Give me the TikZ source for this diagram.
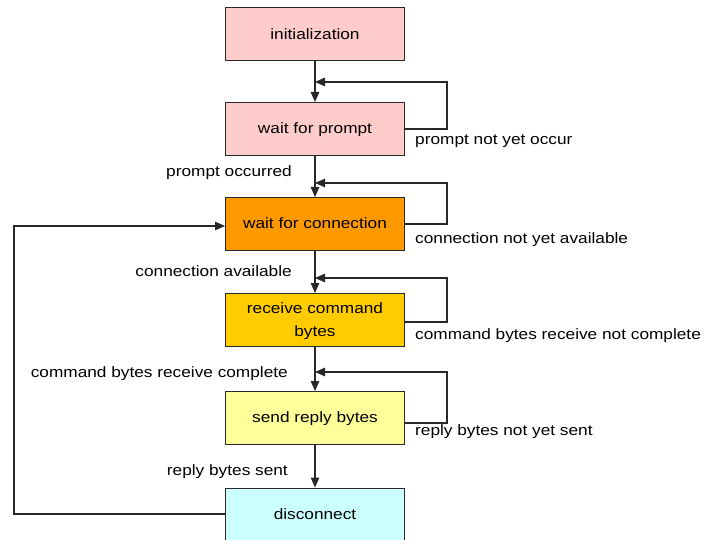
\documentclass[tikz,border=0pt]{standalone}
\usepackage{fontspec}
\setmainfont{Liberation Sans}[FakeStretch=1.15]
\usetikzlibrary{arrows.meta}
\definecolor{pinkbox}{RGB}{255,204,204}
\definecolor{orangebox}{RGB}{255,153,0}
\definecolor{goldbox}{RGB}{255,204,0}
\definecolor{yellowbox}{RGB}{255,255,153}
\definecolor{cyanbox}{RGB}{204,255,255}
\definecolor{edge}{RGB}{40,40,40}
\tikzset{
  state/.style={draw=edge, line width=1pt, minimum width=179pt, minimum height=53pt,
    align=center, font=\fontsize{15}{17}\selectfont, inner sep=2pt, text depth=1pt},
  flow/.style={draw=edge, line width=1.2pt, -{Triangle[length=10pt,width=8.5pt]}},
  loopline/.style={draw=edge, line width=1.2pt, -{Triangle[length=10pt,width=8.5pt]}},
  lbl/.style={font=\fontsize{15}{17}\selectfont, inner sep=0pt, text=black}
}
\begin{document}
\begin{tikzpicture}[x=1pt,y=-1pt]
\useasboundingbox (0,0) rectangle (704,540);
\fill[white] (0,0) rectangle (704,540);

% states
\node[state, fill=pinkbox]   (init) at (315,34.5) {initialization};
\node[state, fill=pinkbox]   (wp)   at (315,129)  {wait for prompt};
\node[state, fill=orangebox] (wc)   at (315,224)  {wait for connection};
\node[state, fill=goldbox]   (rc)   at (315,320)  {receive command\\[6pt]bytes};
\node[state, fill=yellowbox] (sr)   at (315,418)  {send reply bytes};
\node[state, fill=cyanbox]   (dc)   at (315,514.5){disconnect};

% forward transitions
\draw[flow] (init) -- (wp);
\draw[flow] (wp) -- (wc);
\draw[flow] (wc) -- (rc);
\draw[flow] (rc) -- (sr);
\draw[flow] (sr) -- (dc);

% self loops: out of the right side, back onto the incoming arrow
\coordinate (j1) at (315,82);
\coordinate (j2) at (315,183);
\coordinate (j3) at (315,278);
\coordinate (j4) at (315,372);
\coordinate (r1) at (447,82);
\coordinate (r2) at (447,183);
\coordinate (r3) at (447,278);
\coordinate (r4) at (447,372);
\draw[loopline] (wp.east) -| (r1) -- (j1);
\draw[loopline] (wc.east) -| (r2) -- (j2);
\draw[loopline] ([yshift=-2pt]rc.east) -| (r3) -- (j3);
\draw[loopline] ([yshift=-5pt]sr.east) -| (r4) -- (j4);

% return from disconnect to wait for connection
\coordinate (lb) at (14,514);
\coordinate (lt) at (14,226);
\draw[loopline] (dc.west |- lb) -- (lb) -- (lt) -- (wc.west |- lt);

% transition labels
\node[lbl, anchor=west] (t1) at (415,141) {prompt not yet occur};
\node[lbl, anchor=east] (t2) at (292,173) {prompt occurred};
\node[lbl, anchor=west] (t3) at (415,240) {connection not yet available};
\node[lbl, anchor=east] (t4) at (292,271) {connection available};
\node[lbl, anchor=west] (t5) at (415,336) {command bytes receive not complete};
\node[lbl, anchor=east] (t6) at (288,374) {command bytes receive complete};
\node[lbl, anchor=west] (t7) at (415,432) {reply bytes not yet sent};
\node[lbl, anchor=east] (t8) at (288,472) {reply bytes sent};
\end{tikzpicture}
\end{document}
